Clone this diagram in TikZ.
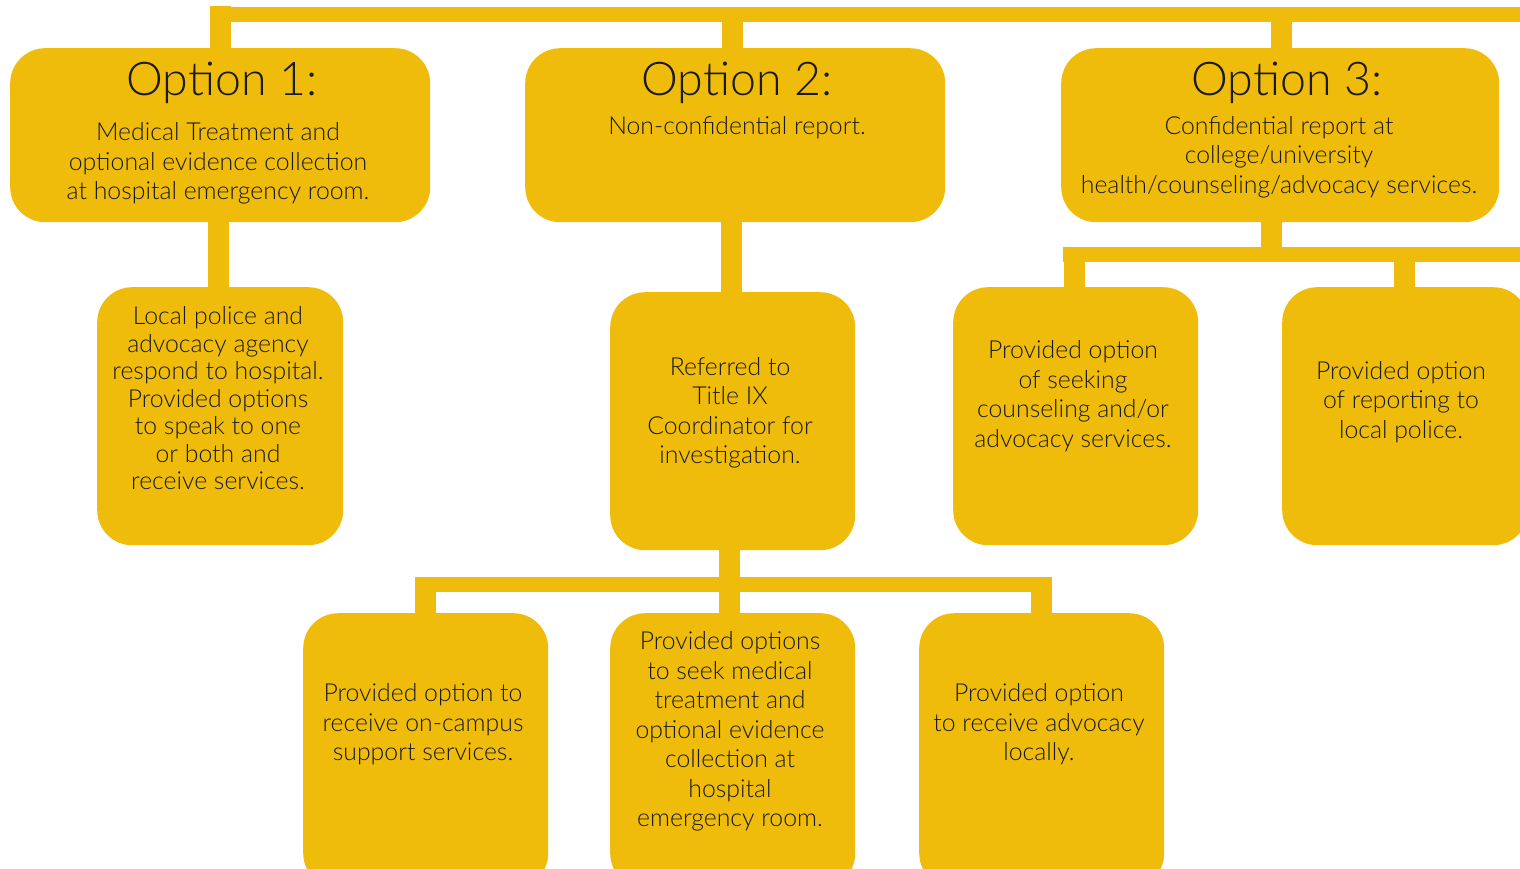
\documentclass[tikz,border=0pt]{standalone}
\usepackage{fontspec}
\setmainfont{Lato}[UprightFont={* Light}]
\usetikzlibrary{backgrounds}
\definecolor{gold}{HTML}{F0BC0B}
\definecolor{ink}{HTML}{1A1A1A}
\begin{document}
\begin{tikzpicture}[x=1pt,y=-1pt,
  box/.style={fill=gold, rounded corners=35pt, inner sep=0pt, anchor=north west},
  vbar/.style={draw=gold, line width=21pt},
  hbar/.style={draw=gold, line width=15.5pt},
  txt/.style={align=center, text=ink, inner sep=0pt, font=\fontsize{24.8}{29.5}\selectfont},
  head/.style={text=ink, inner sep=0pt, font=\fontsize{46.5}{56}\selectfont}]
\useasboundingbox (0,0) rectangle (1520,869);
\clip (0,0) rectangle (1520,869);
% boxes
\node[box, minimum width=420pt, minimum height=174pt] (o1) at (10,48) {};
\node[box, minimum width=420pt, minimum height=174pt] (o2) at (525,48) {};
\node[box, minimum width=438pt, minimum height=174pt] (o3) at (1061,48) {};
\node[box, minimum width=246pt, minimum height=258pt] (lp) at (97,287) {};
\node[box, minimum width=245pt, minimum height=258pt] (ref) at (610,292) {};
\node[box, minimum width=245pt, minimum height=258pt] (cs) at (953,287) {};
\node[box, minimum width=246pt, minimum height=258pt] (rp) at (1282,287) {};
\node[box, minimum width=245pt, minimum height=275pt] (oc) at (303,613) {};
\node[box, minimum width=245pt, minimum height=275pt] (md) at (610,613) {};
\node[box, minimum width=245pt, minimum height=275pt] (ad) at (919,613) {};
% connector coordinates
\coordinate (tl) at (210,14.5);
\coordinate (tr) at (1530,14.5);
\coordinate (s1) at (220.5,6.5);
\coordinate (s2) at (732,14.5);
\coordinate (s3) at (1281.5,14.5);
\coordinate (d1) at (218,222);
\coordinate (d2) at (731,222);
\coordinate (d3) at (729.5,550);
\coordinate (bl) at (415,584.5);
\coordinate (br) at (1051.5,584.5);
\coordinate (bld) at (425.5,577);
\coordinate (brd) at (1041,577);
\coordinate (d4) at (1271.5,222);
\coordinate (cl) at (1063,254.5);
\coordinate (cr) at (1530,254.5);
\coordinate (cld) at (1074,247);
\coordinate (crd) at (1404.5,254.5);
\begin{pgfonlayer}{background}
\draw[hbar] (tl) -- (tr);
\draw[vbar] (s1) -- (s1 |- o1.center);
\draw[vbar] (s2) -- (s2 |- o2.center);
\draw[vbar] (s3) -- (s3 |- o3.center);
\draw[vbar] (d1 |- o1.center) -- (d1 |- lp.center);
\draw[vbar] (d2 |- o2.center) -- (d2 |- ref.center);
\draw[vbar] (d3 |- ref.center) -- (d3 |- md.center);
\draw[hbar] (bl) -- (br);
\draw[vbar] (bld) -- (bld |- oc.center);
\draw[vbar] (brd) -- (brd |- ad.center);
\draw[vbar] (d4 |- o3.center) -- (d4 |- cl);
\draw[hbar] (cl) -- (cr);
\draw[vbar] (cld) -- (cld |- cs.center);
\draw[vbar] (crd) -- (crd |- rp.center);
\end{pgfonlayer}
% texts
\node[head] (h1) at (222,82.5) {Option 1:};
\node[head] (h2) at (737,82.5) {Option 2:};
\node[head] (h3) at (1287,82.5) {Option 3:};
\node[txt] (t1) at (218,163.5) {Medical Treatment and\\optional evidence collection\\at hospital emergency room.};
\node[txt] (t2) at (737,128) {Non-confidential report.};
\node[txt] (t3) at (1279,157) {Confidential report at\\college/university\\health/counseling/advocacy services.};
\node[txt, font=\fontsize{24.8}{27.5}\selectfont] (tlp) at (218,398.5) {Local police and\\advocacy agency\\respond to hospital.\\Provided options\\to speak to one\\or both and\\receive services.};
\node[txt] (tref) at (730,413) {Referred to\\Title IX\\Coordinator for\\investigation.};
\node[txt] (tcs) at (1073,396) {Provided option\\of seeking\\counseling and/or\\advocacy services.};
\node[txt] (trp) at (1401,402) {Provided option\\of reporting to\\local police.};
\node[txt] (toc) at (423,724.5) {Provided option to\\receive on-campus\\support services.};
\node[txt] (tmd) at (730,731.5) {Provided options\\to seek medical\\treatment and\\optional evidence\\collection at\\hospital\\emergency room.};
\node[txt] (tad) at (1039,724.5) {Provided option\\to receive advocacy\\locally.};
\end{tikzpicture}
\end{document}
